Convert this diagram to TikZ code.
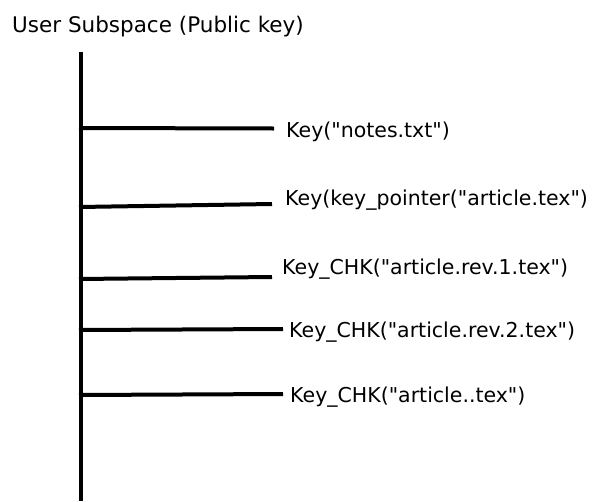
\documentclass[tikz,border=0pt]{standalone}
\usepackage{fontspec}
\setmainfont{DejaVu Sans}[Ligatures=TeXOff]
\begin{document}
\begin{tikzpicture}[x=1pt,y=-1pt,
  keylabel/.style={anchor=base west,inner sep=0pt,font=\fontsize{20.5}{24}\selectfont},
  branch/.style={line width=4pt},
  trunk/.style={line width=4.5pt}]
\useasboundingbox (0,0) rectangle (597,501);
% title
\node[anchor=base west,inner sep=0pt,font=\fontsize{21.5}{26}\selectfont] (title) at (12,32) {User Subspace (Public key)};
% trunk of the subspace
\coordinate (top) at (81,52);
\coordinate (bottom) at (81,501);
\draw[trunk] (top) -- (bottom);
% keys stored in the subspace
\node[keylabel] (k1) at (286,137) {Key("notes.txt")};
\node[keylabel] (k2) at (285,205) {Key(key\_pointer("article.tex")};
\node[keylabel] (k3) at (282,274) {Key\_CHK("article.rev.1.tex")};
\node[keylabel] (k4) at (289,337) {Key\_CHK("article.rev.2.tex")};
\node[keylabel] (k5) at (290,402) {Key\_CHK("article..tex")};
% branches from the trunk to each key
\coordinate (a1) at (79,128); \coordinate (b1) at (274,128.5);
\coordinate (a2) at (79,207); \coordinate (b2) at (272,204);
\coordinate (a3) at (79,279); \coordinate (b3) at (272,277);
\coordinate (a4) at (79,330); \coordinate (b4) at (283,329);
\coordinate (a5) at (79,395); \coordinate (b5) at (283,394);
\foreach \i in {1,...,5}{\draw[branch] (a\i) -- (b\i);}
\end{tikzpicture}
\end{document}
